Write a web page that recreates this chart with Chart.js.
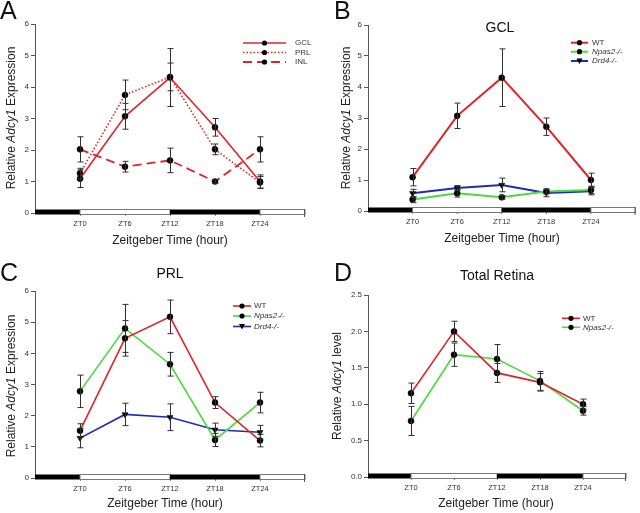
<!DOCTYPE html>
<html><head><meta charset="utf-8">
<script src="https://cdn.jsdelivr.net/npm/chart.js@4.4.1/dist/chart.umd.min.js"></script>
<style>
html,body{margin:0;padding:0;background:#fff;}
#wrap{position:relative;width:640px;height:513px;overflow:hidden;background:#fff;}
canvas{position:absolute;}
</style></head><body>
<div id="wrap">
<canvas id="cA" width="320" height="256" style="left:0;top:0"></canvas>
<canvas id="cB" width="320" height="256" style="left:320px;top:0"></canvas>
<canvas id="cC" width="320" height="257" style="left:0;top:256px"></canvas>
<canvas id="cD" width="320" height="257" style="left:320px;top:256px"></canvas>
</div>
<script>
// ---- data ----
const hours = [0, 6, 12, 18, 24];
const tickLabels = ['ZT0', 'ZT6', 'ZT12', 'ZT18', 'ZT24'];
const phaseEdges = [-6, 0, 12, 24, 30];
const phaseDark = [true, false, true, false];

// Panel A (layers, WT)
const aGCL = [1.09, 3.07, 4.30, 2.72, 1.00];
const aGCLsem = [0.28, 0.41, 0.92, 0.28, 0.21];
const aPRL = [1.26, 3.75, 4.32, 2.02, 0.97];
const aPRLsem = [0.16, 0.47, 0.44, 0.17, 0.19];
const aINL = [2.02, 1.47, 1.67, 1.00, 2.02];
const aINLsem = [0.40, 0.17, 0.39, 0.05, 0.40];

// Panel B (GCL)
const bWT = [1.09, 3.07, 4.30, 2.72, 1.00];
const bWTsem = [0.28, 0.41, 0.93, 0.28, 0.22];
const bNpas2 = [0.37, 0.57, 0.44, 0.63, 0.68];
const bNpas2sem = [0.10, 0.12, 0.06, 0.08, 0.12];
const bDrd4 = [0.57, 0.74, 0.84, 0.58, 0.64];
const bDrd4sem = [0.13, 0.08, 0.22, 0.12, 0.12];

// Panel C (PRL)
const cWT = [1.52, 4.48, 5.17, 2.42, 1.20];
const cWTsem = [0.22, 0.57, 0.54, 0.19, 0.20];
const cNpas2 = [2.78, 4.80, 3.65, 1.22, 2.42];
const cNpas2sem = [0.52, 0.77, 0.38, 0.21, 0.33];
const cDrd4 = [1.28, 2.04, 1.95, 1.55, 1.47];
const cDrd4sem = [0.31, 0.36, 0.43, 0.21, 0.22];

// Panel D (Total retina)
const dWT = [1.15, 2.00, 1.43, 1.30, 1.00];
const dWTsem = [0.14, 0.14, 0.13, 0.12, 0.07];
const dNpas2 = [0.77, 1.68, 1.62, 1.32, 0.91];
const dNpas2sem = [0.20, 0.16, 0.20, 0.13, 0.06];

// ---- styles ----
const FAM = "'Liberation Sans', Arial, Helvetica, sans-serif";
const RED = '#e0232b', GREEN = '#4ada3e', BLUE = '#1f2bb3';

const decorCfg = {};

const decor = {
  id: 'decor',
  beforeDraw(chart) {
    const ctx = chart.ctx;
    ctx.save(); ctx.fillStyle = '#fff'; ctx.fillRect(0, 0, chart.width, chart.height); ctx.restore();
  },
  afterDatasetsDraw(chart) {
    const ctx = chart.ctx, xs = chart.scales.x, ys = chart.scales.y;
    chart.data.datasets.forEach(ds => {
      if (!ds.sem) return;
      ctx.save(); ctx.strokeStyle = '#303030'; ctx.lineWidth = 1;
      ds.data.forEach((p, j) => {
        const x = Math.round(xs.getPixelForValue(p.x)) + 0.5;
        const lo = ys.getPixelForValue(p.y - ds.sem[j]);
        const hi = ys.getPixelForValue(p.y + ds.sem[j]);
        ctx.beginPath();
        ctx.moveTo(x, lo); ctx.lineTo(x, hi);
        ctx.moveTo(x - 3, lo); ctx.lineTo(x + 3, lo);
        ctx.moveTo(x - 3, hi); ctx.lineTo(x + 3, hi);
        ctx.stroke();
      });
      ctx.restore();
    });
  },
  afterDraw(chart) {
    const cfg = decorCfg[chart.canvas.id];
    const ctx = chart.ctx, xs = chart.scales.x, ys = chart.scales.y;
    // light/dark bar
    const y0 = ys.getPixelForValue(0);
    ctx.save();
    for (let i = 0; i < phaseDark.length; i++) {
      const x1 = xs.getPixelForValue(phaseEdges[i]), x2 = xs.getPixelForValue(phaseEdges[i + 1]);
      if (phaseDark[i]) { ctx.fillStyle = '#000'; ctx.fillRect(x1, y0 - 3.5, x2 - x1, 5); }
      else { ctx.fillStyle = '#fff'; ctx.fillRect(x1, y0 - 3.5, x2 - x1, 5);
        ctx.strokeStyle = '#777'; ctx.lineWidth = 1; ctx.strokeRect(x1, y0 - 3.5, x2 - x1, 5); }
    }
    const xr = xs.getPixelForValue(30);
    ctx.strokeStyle = '#555'; ctx.beginPath(); ctx.moveTo(xr - 0.5, y0 - 3.5); ctx.lineTo(xr - 0.5, y0 + 4); ctx.stroke();
    ctx.restore();

    ctx.save();
    ctx.fillStyle = '#111';
    // panel letter
    ctx.font = '25px ' + FAM; ctx.textBaseline = 'alphabetic'; ctx.textAlign = 'left';
    ctx.fillText(cfg.letter[0], cfg.letter[1], cfg.letter[2]);
    // title
    if (cfg.title) {
      ctx.font = '14px ' + FAM; ctx.textAlign = 'center'; ctx.textBaseline = 'middle';
      ctx.fillText(cfg.title[0], cfg.title[1], cfg.title[2]);
    }
    // x title
    ctx.font = '12px ' + FAM; ctx.textAlign = 'center'; ctx.textBaseline = 'middle';
    ctx.fillStyle = '#222';
    ctx.fillText('Zeitgeber Time (hour)', cfg.xTitle[0], cfg.xTitle[1]);
    // y title with italic gene name
    const parts = cfg.yTitle[0];
    let total = 0;
    parts.forEach(p => { ctx.font = (p[1] ? 'italic ' : '') + '12px ' + FAM; total += ctx.measureText(p[0]).width; });
    ctx.translate(cfg.yTitle[1], cfg.yTitle[2]); ctx.rotate(-Math.PI / 2);
    ctx.textAlign = 'left'; ctx.textBaseline = 'middle';
    let cx = -total / 2;
    parts.forEach(p => { ctx.font = (p[1] ? 'italic ' : '') + '12px ' + FAM; ctx.fillText(p[0], cx, 0); cx += ctx.measureText(p[0]).width; });
    ctx.restore();

    // legend
    const L = cfg.legend;
    chart.data.datasets.forEach((ds, i) => {
      const y = L.ys[i];
      ctx.save();
      ctx.strokeStyle = ds.borderColor; ctx.lineWidth = ds.borderWidth;
      ctx.setLineDash(ds.borderDash || []);
      ctx.beginPath(); ctx.moveTo(L.x1, y); ctx.lineTo(L.x2, y); ctx.stroke();
      ctx.setLineDash([]);
      const mx = (L.x1 + L.x2) / 2;
      ctx.fillStyle = '#000';
      if (ds.pointStyle === 'triangle') {
        ctx.beginPath(); ctx.moveTo(mx - 3, y - 2.5); ctx.lineTo(mx + 3, y - 2.5); ctx.lineTo(mx, y + 3); ctx.closePath(); ctx.fill();
      } else {
        ctx.beginPath(); ctx.arc(mx, y, 2.6, 0, Math.PI * 2); ctx.fill();
      }
      ctx.fillStyle = '#333';
      ctx.font = (ds.italic ? 'italic ' : '') + '8px ' + FAM;
      ctx.textAlign = 'left'; ctx.textBaseline = 'middle';
      ctx.fillText(ds.label, L.tx, y);
      ctx.restore();
    });
  }
};

function series(label, values, sem, color, extra) {
  const e = extra || {};
  return Object.assign({
    label: label,
    data: hours.map((h, i) => ({ x: h, y: values[i] })),
    sem: sem,
    borderColor: color,
    borderWidth: 1.6,
    borderDash: [],
    pointStyle: 'circle',
    pointRotation: 0,
    pointRadius: 3,
    pointBackgroundColor: '#000',
    pointBorderColor: '#000',
    pointBorderWidth: 0.5,
    tension: 0,
    fill: false,
    italic: false
  }, e);
}

function makeChart(id, w, h, area, ymax, step, decimals, sets) {
  return new Chart(document.getElementById(id), {
    type: 'line',
    data: { datasets: sets },
    options: {
      responsive: false,
      animation: false,
      events: [],
      layout: { padding: { left: 0, right: w - area.r, top: area.t, bottom: 0 } },
      plugins: { legend: { display: false }, tooltip: { enabled: false } },
      scales: {
        x: {
          type: 'linear', min: -6, max: 30,
          afterBuildTicks: s => { s.ticks = hours.map(v => ({ value: v })); },
          afterFit: s => { s.height = h - area.b; },
          grid: { display: true, drawOnChartArea: false, drawTicks: true, tickLength: 3, color: '#888' },
          border: { display: false },
          ticks: { callback: (v, i) => tickLabels[i], font: { size: 7.5, family: FAM }, color: '#333', padding: 3, maxRotation: 0, autoSkip: false }
        },
        y: {
          min: 0, max: ymax,
          afterFit: s => { s.width = area.l; },
          ticks: { stepSize: step, callback: v => decimals ? Number(v).toFixed(1) : v, font: { size: 8, family: FAM }, color: '#333', padding: 2 },
          grid: { display: true, drawOnChartArea: false, drawTicks: true, tickLength: 4, color: '#555' },
          border: { display: true, color: '#555', width: 1 }
        }
      }
    },
    plugins: [decor]
  });
}

const ADCY_EXPR = [['Relative ', false], ['Adcy1', true], [' Expression', false]];
const ADCY_LEVEL = [['Relative ', false], ['Adcy1', true], [' level', false]];

decorCfg.cA = { letter: ['A', 0, 19], title: null, xTitle: [170, 241], yTitle: [ADCY_EXPR, 12, 118], legend: { x1: 243, x2: 286, tx: 295, ys: [43, 52.5, 62] } };
decorCfg.cB = { letter: ['B', 14, 19], title: ['GCL', 180, 28], xTitle: [182, 239], yTitle: [ADCY_EXPR, 27, 118], legend: { x1: 251, x2: 268, tx: 272, ys: [42.7, 51.7, 61] } };
decorCfg.cC = { letter: ['C', 0, 25], title: ['PRL', 170, 18], xTitle: [165, 248], yTitle: [ADCY_EXPR, 12, 130], legend: { x1: 233, x2: 251, tx: 254, ys: [50, 60, 70.5] } };
decorCfg.cD = { letter: ['D', 14, 25], title: ['Total Retina', 177, 20], xTitle: [176, 248], yTitle: [ADCY_LEVEL, 18, 130], legend: { x1: 242, x2: 260, tx: 263, ys: [62.3, 71.3] } };

makeChart('cA', 320, 256, { l: 35, r: 305, t: 24, b: 213 }, 6, 1, false, [
  series('GCL', aGCL, aGCLsem, RED),
  series('PRL', aPRL, aPRLsem, RED, { borderDash: [1.5, 2], borderWidth: 1.6 }),
  series('INL', aINL, aINLsem, RED, { borderDash: [9, 5], borderWidth: 1.8 })
]);
makeChart('cB', 320, 256, { l: 48, r: 317, t: 25, b: 211 }, 6, 1, false, [
  series('WT', bWT, bWTsem, RED, { borderWidth: 2 }),
  series('Npas2-/-', bNpas2, bNpas2sem, GREEN, { borderWidth: 2, italic: true }),
  series('Drd4-/-', bDrd4, bDrd4sem, BLUE, { borderWidth: 2, italic: true, pointStyle: 'triangle', pointRotation: 180, pointRadius: 3.5 })
]);
makeChart('cC', 320, 257, { l: 35, r: 305, t: 35, b: 222 }, 6, 1, false, [
  series('WT', cWT, cWTsem, RED),
  series('Npas2-/-', cNpas2, cNpas2sem, GREEN, { italic: true }),
  series('Drd4-/-', cDrd4, cDrd4sem, BLUE, { italic: true, pointStyle: 'triangle', pointRotation: 180, pointRadius: 3.5 })
]);
makeChart('cD', 320, 257, { l: 48, r: 306, t: 39, b: 221 }, 2.5, 0.5, true, [
  series('WT', dWT, dWTsem, RED),
  series('Npas2-/-', dNpas2, dNpas2sem, GREEN, { italic: true })
]);
</script>
</body></html>
